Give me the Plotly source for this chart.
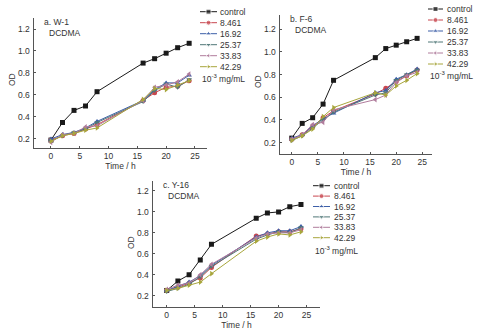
import plotly.graph_objects as go

# Sampling times (h)
time_h = [0, 2, 4, 6, 8, 16, 18, 20, 22, 24]

series_names = ["control", "8.461", "16.92", "25.37", "33.83", "42.29"]

# OD readings, strain W-1
od_w1 = {
    "control": [0.19, 0.35, 0.46, 0.50, 0.63, 0.89, 0.93, 0.98, 1.03, 1.07],
    "8.461": [0.19, 0.23, 0.25, 0.29, 0.33, 0.55, 0.62, 0.67, 0.68, 0.73],
    "16.92": [0.20, 0.24, 0.26, 0.30, 0.36, 0.55, 0.65, 0.71, 0.71, 0.78],
    "25.37": [0.18, 0.23, 0.26, 0.29, 0.35, 0.54, 0.64, 0.70, 0.67, 0.74],
    "33.83": [0.17, 0.24, 0.25, 0.31, 0.32, 0.55, 0.67, 0.69, 0.72, 0.79],
    "42.29": [0.18, 0.23, 0.25, 0.28, 0.30, 0.56, 0.66, 0.65, 0.69, 0.73],
}

# OD readings, strain F-6
od_f6 = {
    "control": [0.24, 0.37, 0.42, 0.54, 0.75, 0.95, 1.03, 1.06, 1.09, 1.12],
    "8.461": [0.23, 0.27, 0.34, 0.42, 0.48, 0.63, 0.68, 0.74, 0.79, 0.84],
    "16.92": [0.24, 0.27, 0.35, 0.41, 0.46, 0.64, 0.66, 0.76, 0.80, 0.85],
    "25.37": [0.22, 0.26, 0.33, 0.40, 0.47, 0.62, 0.64, 0.75, 0.80, 0.84],
    "33.83": [0.23, 0.27, 0.36, 0.38, 0.49, 0.58, 0.62, 0.73, 0.79, 0.82],
    "42.29": [0.22, 0.26, 0.32, 0.43, 0.51, 0.64, 0.62, 0.70, 0.75, 0.81],
}

# OD readings, strain Y-16
od_y16 = {
    "control": [0.25, 0.34, 0.40, 0.54, 0.69, 0.94, 0.99, 1.00, 1.05, 1.07],
    "8.461": [0.25, 0.28, 0.32, 0.37, 0.47, 0.77, 0.79, 0.81, 0.81, 0.84],
    "16.92": [0.25, 0.29, 0.33, 0.39, 0.49, 0.76, 0.80, 0.82, 0.82, 0.86],
    "25.37": [0.24, 0.27, 0.31, 0.38, 0.48, 0.74, 0.78, 0.81, 0.80, 0.85],
    "33.83": [0.26, 0.30, 0.32, 0.40, 0.50, 0.75, 0.79, 0.80, 0.80, 0.83],
    "42.29": [0.25, 0.27, 0.30, 0.33, 0.41, 0.72, 0.76, 0.79, 0.78, 0.81],
}

x_ticks = [0, 5, 10, 15, 20, 25]
y_ticks = [0.2, 0.4, 0.6, 0.8, 1.0, 1.2]
y_tick_text = ["0.2", "0.4", "0.6", "0.8", "1.0", "1.2"]

colors = {
    "control": "#1a1a1a",
    "8.461": "#c8474f",
    "16.92": "#3d5fa8",
    "25.37": "#4f7777",
    "33.83": "#b07c9c",
    "42.29": "#a8a63c",
}
symbols = {
    "control": "square",
    "8.461": "circle",
    "16.92": "triangle-up",
    "25.37": "triangle-down",
    "33.83": "triangle-left",
    "42.29": "triangle-right",
}

W, H = 499, 331
FONT = "Liberation Sans, Arial, sans-serif"
TXT = "#333333"
AXC = "#555555"
FS = 8.5


def px_x(v):
    return v / W


def px_y(v):
    return 1 - v / H


def label(text, x, y, xanchor="left", **kw):
    return dict(text=text, x=x, y=y, xref="paper", yref="paper", xanchor=xanchor, yanchor="middle",
                showarrow=False, font=dict(family=FONT, size=FS, color=TXT), **kw)


# panel geometry in pixels: (left, right, top, bottom), x range, y range
panels = [
    dict(data=od_w1, tag="a. W-1", box=(34, 207, 18, 148), xr=[-2.95, 27.1], yr=[0.118, 1.3],
         od_y=80, legend=dict(x0=200, x1=217, y0=11.7, dy=11.0, tx=218, unit_y=78.5)),
    dict(data=od_f6, tag="b. F-6", box=(280, 432, 15, 154), xr=[-2.25, 26.85], yr=[0.10, 1.326],
         od_y=82, legend=dict(x0=428, x1=443, y0=9.0, dy=11.0, tx=445, unit_y=75.5)),
    dict(data=od_y16, tag="c. Y-16", box=(153, 320, 181, 306.7), xr=[-2.45, 27.4], yr=[0.095, 1.295],
         od_y=243, legend=dict(x0=313, x1=330, y0=185.7, dy=10.4, tx=332, unit_y=250)),
]

fig = go.Figure()
fig.update_layout(template="none")
annotations = []

for i, p in enumerate(panels, start=1):
    xa = "x" if i == 1 else f"x{i}"
    ya = "y" if i == 1 else f"y{i}"
    l, r, t, b = p["box"]
    y_lo, y_hi = p["yr"]

    for name in series_names:
        fig.add_trace(go.Scatter(
            x=time_h, y=p["data"][name], mode="lines+markers",
            line=dict(color=colors[name], width=1),
            marker=dict(symbol=symbols[name], size=5, color=colors[name]),
            xaxis=xa, yaxis=ya, showlegend=False, hoverinfo="skip",
        ))

    axis_common = dict(
        showline=True, linecolor=AXC, linewidth=1, showgrid=False, zeroline=False,
        ticks="inside", ticklen=2, tickcolor=AXC, automargin=False,
        tickfont=dict(family=FONT, size=FS, color=TXT),
    )
    fig.update_layout(**{
        ("xaxis" if i == 1 else f"xaxis{i}"): dict(
            domain=[px_x(l), px_x(r)], range=p["xr"], autorange=False, anchor=ya,
            tickmode="array", tickvals=x_ticks,
            title=dict(text="Time / h", font=dict(family=FONT, size=FS, color=TXT), standoff=2),
            **axis_common),
        ("yaxis" if i == 1 else f"yaxis{i}"): dict(
            domain=[px_y(b), px_y(t)], range=[y_lo, y_hi], autorange=False, anchor=xa,
            tickmode="array", tickvals=y_ticks, showticklabels=False,
            **axis_common),
    })
    # y tick labels, placed with the same linear mapping as the axis (range -> domain)
    for v, txt in zip(y_ticks, y_tick_text):
        frac = (v - y_lo) / (y_hi - y_lo)
        py = b - frac * (b - t)
        annotations.append(label(txt, px_x(l - 2), px_y(py), xanchor="right"))
    annotations.append(label("OD", px_x(l - 22), px_y(p["od_y"]), xanchor="center", textangle=-90))

    # panel tag and compound name
    annotations.append(label(p["tag"], px_x(l + 8), px_y(t + 4)))
    annotations.append(label("DCDMA", px_x(l + 13), px_y(t + 15)))

# full-figure helper axes in pixel units, used only for the legend keys
fig.update_layout(
    xaxis4=dict(domain=[0, 1], range=[0, W], visible=False, anchor="y4", fixedrange=True),
    yaxis4=dict(domain=[0, 1], range=[H, 0], visible=False, anchor="x4", fixedrange=True),
)

for p in panels:
    lg = p["legend"]
    xm = (lg["x0"] + lg["x1"]) / 2
    for k, name in enumerate(series_names):
        yy = lg["y0"] + k * lg["dy"]
        fig.add_trace(go.Scatter(
            x=[lg["x0"], xm, lg["x1"]], y=[yy, yy, yy], mode="lines+markers",
            line=dict(color=colors[name], width=1),
            marker=dict(symbol=symbols[name], size=[0, 5, 0], color=colors[name]),
            xaxis="x4", yaxis="y4", showlegend=False, hoverinfo="skip",
        ))
        annotations.append(label(name, px_x(lg["tx"]), px_y(yy)))
    annotations.append(label("10<sup>-3</sup> mg/mL", px_x(lg["x0"]), px_y(lg["unit_y"])))

fig.update_layout(
    width=W, height=H, margin=dict(l=0, r=0, t=0, b=0, pad=0),
    paper_bgcolor="white", plot_bgcolor="rgba(0,0,0,0)",
    annotations=annotations, showlegend=False,
)

fig.write_html("out.html", config={"displayModeBar": False})
